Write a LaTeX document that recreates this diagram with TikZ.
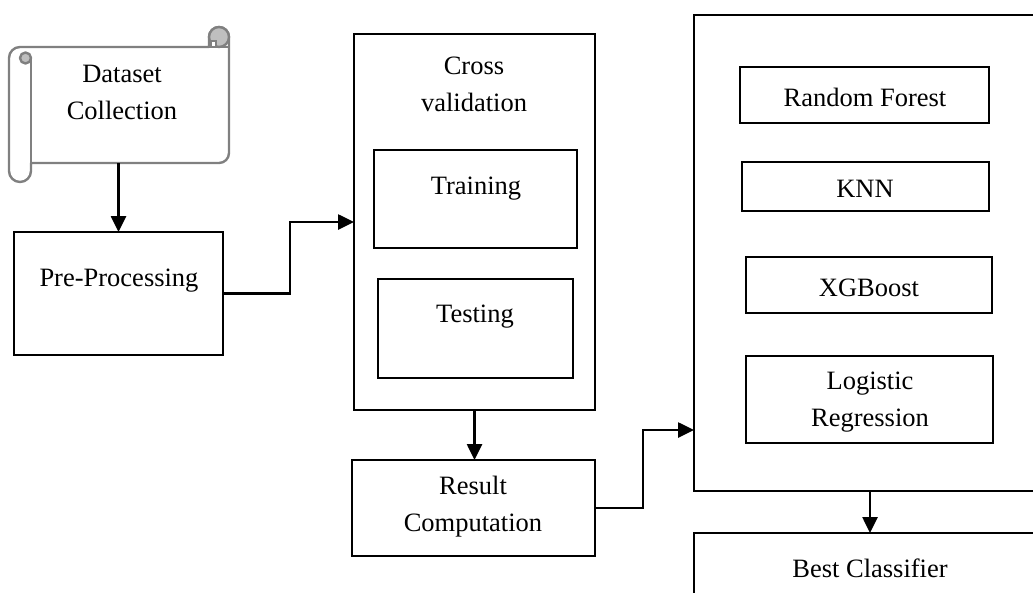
\documentclass[tikz,border=0pt]{standalone}
\usepackage{fontspec}
\setmainfont{Liberation Serif}
\usetikzlibrary{arrows.meta}
\definecolor{sg}{RGB}{128,128,128}
\definecolor{sf}{RGB}{191,191,191}
\begin{document}
\begin{tikzpicture}[x=1pt,y=1pt,
  box/.style={draw, line width=2.8pt, inner sep=0pt, outer sep=0pt},
  lbl/.style={font=\fontsize{26.5}{37}\selectfont, align=center, inner sep=0pt},
  arr/.style={line width=2.6pt, -{Triangle[length=16pt,width=15pt]}},
  scrollline/.style={draw=sg, line width=2.4pt, line join=round}]
\useasboundingbox (0,0) rectangle (1033,-592);
\clip (0,0) rectangle (1033,-592);

% ---- scroll (Dataset Collection) ----
\path[scrollline, fill=white]
  (9,-58) arc[start angle=180, end angle=90, radius=11] -- (209,-47)
  -- (209,-37) arc[start angle=180, end angle=0, radius=10]
  -- (229,-153) arc[start angle=0, end angle=-90, radius=10]
  -- (31,-163) -- (31,-171) arc[start angle=0, end angle=-180, radius=11] -- cycle;
\path[scrollline, fill=sf] (219,-37) circle[radius=10];
\path[draw=sg, line width=1.6pt, fill=white] (211,-41) rectangle (216,-47);
\path[scrollline] (209,-47) -- (229,-47);
\path[scrollline, fill=sf] (25.5,-58) circle[radius=5.5];
\path[scrollline] (31,-58) -- (31,-171);
\node[inner sep=0pt, minimum width=198pt, minimum height=116pt] (ds) at (130,-105) {};
\node[lbl] (dst) at (122,-92) {Dataset\\Collection};

% ---- boxes ----
\node[box, minimum width=209pt, minimum height=123pt] (pre) at (118.5,-293.5) {};
\node[lbl] (pret) at (119,-281) {Pre-Processing};

\node[box, minimum width=241pt, minimum height=376pt] (cv) at (474.5,-222) {};
\node[lbl] (cvt) at (474,-84) {Cross\\validation};
\node[box, minimum width=203pt, minimum height=98pt] (train) at (475.5,-199) {};
\node[lbl] (traint) at (476,-189) {Training};
\node[box, minimum width=195pt, minimum height=99pt] (test) at (475.5,-328.5) {};
\node[lbl] (testt) at (475,-317) {Testing};

\node[box, minimum width=243pt, minimum height=96pt] (res) at (473.5,-508) {};
\node[lbl] (rest) at (473,-507) {Result\\Computation};

\node[box, minimum width=352pt, minimum height=476pt] (models) at (870,-253) {};
\node[box, minimum width=249pt, minimum height=56pt] (rf) at (864.5,-95) {};
\node[lbl] (rft) at (865,-97) {Random Forest};
\node[box, minimum width=247pt, minimum height=49pt] (knn) at (865.5,-186.5) {};
\node[lbl] (knnt) at (865,-189) {KNN};
\node[box, minimum width=246pt, minimum height=56pt] (xgb) at (869,-285) {};
\node[lbl] (xgbt) at (869,-288) {XGBoost};
\node[box, minimum width=247pt, minimum height=87pt] (lr) at (869.5,-399.5) {};
\node[lbl] (lrt) at (870,-402) {Logistic\\Regression};

\node[box, minimum width=352pt, minimum height=86pt] (best) at (870,-576) {};
\node[lbl] (bestt) at (870,-568) {Best Classifier};

% ---- connectors ----
\draw[arr] (pre.north |- ds.south) -- (pre.north);
\draw[arr] (pre.east) -- ++(67,0) |- (cv.west);
\draw[arr] (cv.south) -- (cv.south |- res.north);
\draw[arr] (res.east) -- ++(48,0) |- ([yshift=-177pt]models.west);
\draw[arr] (models.south) -- (best.north);
\end{tikzpicture}
\end{document}
